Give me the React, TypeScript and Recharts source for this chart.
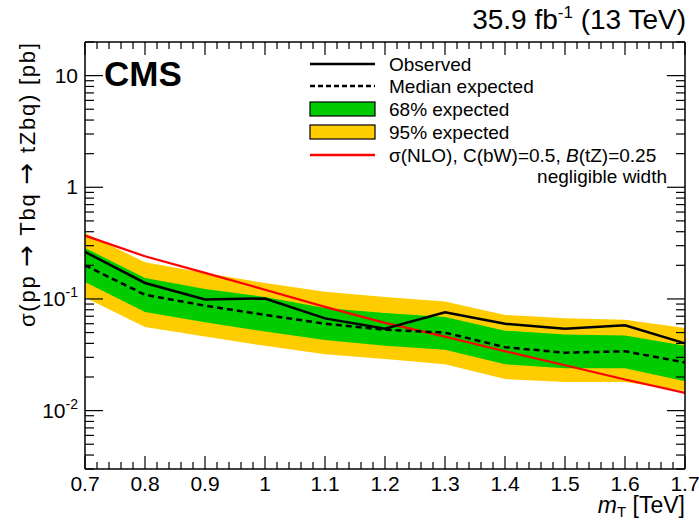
import React from 'react';
import { Area, ComposedChart, Line, XAxis, YAxis } from 'recharts';

// m_T points [TeV]
const MASS = [0.7, 0.8, 0.9, 1.0, 1.1, 1.2, 1.3, 1.4, 1.5, 1.6, 1.7];
// cross section limits [pb]
const OBSERVED = [0.264, 0.139, 0.099, 0.101, 0.067, 0.054, 0.076, 0.06, 0.054, 0.058, 0.04];
const MEDIAN = [0.2, 0.109, 0.087, 0.072, 0.06, 0.053, 0.05, 0.037, 0.033, 0.034, 0.027];
const BAND68_LO = [0.142, 0.0765, 0.062, 0.051, 0.043, 0.038, 0.035, 0.026, 0.024, 0.024, 0.0183];
const BAND68_HI = [0.286, 0.154, 0.123, 0.104, 0.083, 0.075, 0.069, 0.052, 0.048, 0.047, 0.038];
const BAND95_LO = [0.103, 0.056, 0.046, 0.038, 0.032, 0.029, 0.026, 0.0192, 0.018, 0.018, 0.015];
const BAND95_HI = [0.39, 0.213, 0.171, 0.139, 0.116, 0.104, 0.095, 0.072, 0.067, 0.065, 0.055];
const THEORY = [0.369, 0.241, 0.171, 0.121, 0.085, 0.061, 0.046, 0.034, 0.0255, 0.019, 0.0144];

const X_MAJOR = [0.7, 0.8, 0.9, 1.0, 1.1, 1.2, 1.3, 1.4, 1.5, 1.6, 1.7];
const Y_MAJOR = [0.01, 0.1, 1, 10];
const Y_LABELS: Record<string, [string, string]> = {
  '0.01': ['10', '-2'],
  '0.1': ['10', '-1'],
  '1': ['1', ''],
  '10': ['10', ''],
};

const FONT = '"Liberation Sans", Arial, Helvetica, sans-serif';
const ARROW_FONT = '"DejaVu Sans", sans-serif';
const YELLOW = '#ffcc00';
const GREEN = '#00cc00';
const RED = '#ff0000';

const data = MASS.map((m, i) => ({
  m,
  obs: OBSERVED[i],
  med: MEDIAN[i],
  b68: [BAND68_LO[i], BAND68_HI[i]],
  b95: [BAND95_LO[i], BAND95_HI[i]],
  th: THEORY[i],
}));

// minor ticks every 0.02 TeV, and 2..9 per decade
const xTicks: number[] = [];
for (let k = 70; k <= 170; k += 2) xTicks.push(k / 100);
const yTicks: number[] = [];
for (const d of [0.001, 0.01, 0.1, 1, 10]) {
  for (let k = 1; k <= 9; k++) {
    const v = Number((k * d).toPrecision(3));
    if (v >= 0.003 && v <= 20) yTicks.push(v);
  }
}

const isXMajor = (v: number) => X_MAJOR.some((t) => Math.abs(t - v) < 1e-6);
const isYMajor = (v: number) => Y_MAJOR.some((t) => Math.abs(t - v) < 1e-9);

function makeXTick(side: 'bottom' | 'top') {
  return (props: any) => {
    const { x, y, payload } = props;
    const major = isXMajor(payload.value);
    const len = major ? 13 : 7;
    const dir = side === 'bottom' ? -1 : 1;
    return (
      <g>
        <line x1={x} y1={y} x2={x} y2={y + dir * len} stroke="#000" strokeWidth={1.2} />
        {side === 'bottom' && major && (
          <text x={x} y={y + 22} textAnchor="middle" fontSize={21} fontFamily={FONT} fill="#000">
            {Number(payload.value.toFixed(1)) === 1 ? '1' : payload.value.toFixed(1)}
          </text>
        )}
      </g>
    );
  };
}

function makeYTick(side: 'left' | 'right') {
  return (props: any) => {
    const { x, y, payload } = props;
    const major = isYMajor(payload.value);
    const len = major ? 18 : 9;
    const dir = side === 'left' ? 1 : -1;
    const lab = Y_LABELS[String(payload.value)];
    return (
      <g>
        <line x1={x} y1={y} x2={x + dir * len} y2={y} stroke="#000" strokeWidth={1.2} />
        {side === 'left' && major && lab && (
          <text x={x - 7} y={y + 7} textAnchor="end" fontSize={21} fontFamily={FONT} fill="#000">
            {lab[0]}
            {lab[1] && (
              <tspan dy={-9} fontSize={14}>
                {lab[1]}
              </tspan>
            )}
          </text>
        )}
      </g>
    );
  };
}

function Arrow() {
  return (
    <tspan fontFamily={ARROW_FONT} fontSize={26}>
      →
    </tspan>
  );
}

function Annotations() {
  const rowX = 310;
  const textX = 389;
  return (
    <svg
      width={699}
      height={521}
      style={{ position: 'absolute', left: 0, top: 0, pointerEvents: 'none' }}
      fontFamily={FONT}
    >
      <text x={686} y={29} textAnchor="end" fontSize={28} fill="#000">
        35.9 fb
        <tspan dy={-11} fontSize={17}>-1</tspan>
        <tspan dy={11}> (13 TeV)</tspan>
      </text>
      <text x={104} y={86} fontSize={35} fontWeight="bold" fill="#000">
        CMS
      </text>
      <text
        transform="translate(35,327) rotate(-90)"
        fontSize={22}
        fill="#000"
        textLength={284}
        lengthAdjust="spacing"
      >
        σ(pp <Arrow /> Tbq <Arrow /> tZbq) [pb]
      </text>
      <text x={685} y={513} textAnchor="end" fontSize={23} fill="#000">
        <tspan fontStyle="italic">m</tspan>
        <tspan fontSize={15} dy={4}>T</tspan>
        <tspan dy={-4}> [TeV]</tspan>
      </text>

      <line x1={rowX} y1={64} x2={375} y2={64} stroke="#000" strokeWidth={2.5} />
      <text x={textX} y={71} fontSize={19}>Observed</text>
      <line x1={rowX} y1={86} x2={375} y2={86} stroke="#000" strokeWidth={2.5} strokeDasharray="5 3" />
      <text x={textX} y={93} fontSize={19}>Median expected</text>
      <rect x={rowX} y={102} width={65} height={14} fill={GREEN} stroke="#000" strokeWidth={1.2} />
      <text x={textX} y={116} fontSize={19}>68% expected</text>
      <rect x={rowX} y={125} width={65} height={14} fill={YELLOW} stroke="#000" strokeWidth={1.2} />
      <text x={textX} y={139} fontSize={19}>95% expected</text>
      <line x1={rowX} y1={155} x2={375} y2={155} stroke={RED} strokeWidth={2.5} />
      <text x={textX} y={162} fontSize={19}>
        σ(NLO), C(bW)=0.5, <tspan fontStyle="italic">B</tspan>(tZ)=0.25
      </text>
      <text x={667} y={183} fontSize={19} textAnchor="end">negligible width</text>
    </svg>
  );
}

export default function App() {
  return (
    <div style={{ position: 'absolute', left: 0, top: 0, width: 699, height: 521, background: '#fff' }}>
      <ComposedChart width={699} height={521} data={data} margin={{ top: 0, right: 0, bottom: 0, left: 0 }}>
        <XAxis
          dataKey="m"
          type="number"
          domain={[0.7, 1.7]}
          ticks={xTicks}
          interval={0}
          height={52}
          tickSize={0}
          tickMargin={0}
          tickLine={false}
          tick={makeXTick('bottom')}
          axisLine={{ stroke: '#000', strokeWidth: 1.5 }}
        />
        <XAxis
          xAxisId="top"
          orientation="top"
          dataKey="m"
          type="number"
          domain={[0.7, 1.7]}
          ticks={xTicks}
          interval={0}
          height={42}
          tickSize={0}
          tickMargin={0}
          tickLine={false}
          tick={makeXTick('top')}
          axisLine={{ stroke: '#000', strokeWidth: 1.5 }}
        />
        <YAxis
          scale="log"
          type="number"
          domain={[0.003, 20]}
          allowDataOverflow
          ticks={yTicks}
          interval={0}
          width={85}
          tickSize={0}
          tickMargin={0}
          tickLine={false}
          tick={makeYTick('left')}
          axisLine={{ stroke: '#000', strokeWidth: 1.5 }}
        />
        <YAxis
          yAxisId="right"
          orientation="right"
          scale="log"
          type="number"
          domain={[0.003, 20]}
          allowDataOverflow
          ticks={yTicks}
          interval={0}
          width={14}
          tickSize={0}
          tickMargin={0}
          tickLine={false}
          tick={makeYTick('right')}
          axisLine={{ stroke: '#000', strokeWidth: 1.5 }}
        />
        <Area dataKey="b95" type="linear" fill={YELLOW} fillOpacity={1} stroke="none" isAnimationActive={false} />
        <Area dataKey="b68" type="linear" fill={GREEN} fillOpacity={1} stroke="none" isAnimationActive={false} />
        <Line dataKey="th" type="linear" stroke={RED} strokeWidth={2.2} dot={false} isAnimationActive={false} />
        <Line dataKey="med" type="linear" stroke="#000" strokeWidth={2.5} strokeDasharray="6 4" dot={false} isAnimationActive={false} />
        <Line dataKey="obs" type="linear" stroke="#000" strokeWidth={2.5} dot={false} isAnimationActive={false} />
      </ComposedChart>
      <Annotations />
    </div>
  );
}
